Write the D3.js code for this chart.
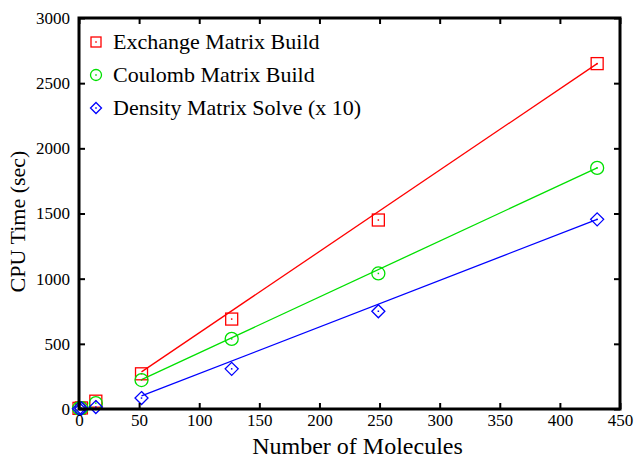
<!DOCTYPE html>
<html>
<head>
<meta charset="utf-8">
<script src="https://cdn.jsdelivr.net/npm/d3@7"></script>
<style>
body { margin: 0; background: #fff; }
svg { font-family: "Liberation Serif", "DejaVu Serif", serif; }
</style>
</head>
<body>
<svg width="637" height="457"></svg>
<script>
const svg = d3.select('svg');

// molecules in the system
const molecules = [0, 2, 14, 52, 127, 249, 431];

// measured CPU times (sec)
const exchange = [5, 8, 60, 270, 690, 1450, 2650];
const coulomb = [4, 6, 45, 222, 538, 1040, 1850];
const density = [2, 4, 15, 84, 308, 750, 1455];

// fitted lines (end points)
const fitX = [52, 431];
const exchangeFit = [285, 2650];
const coulombFit = [225, 1850];
const densityFit = [100, 1455];

const xTicks = [0, 50, 100, 150, 200, 250, 300, 350, 400, 450];
const yTicks = [0, 500, 1000, 1500, 2000, 2500, 3000];

const series = [
    { name: "Exchange Matrix Build", values: exchange, fit: exchangeFit, color: "#ff0000", shape: "square" },
    { name: "Coulomb Matrix Build", values: coulomb, fit: coulombFit, color: "#00e000", shape: "circle" },
    { name: "Density Matrix Solve (x 10)", values: density, fit: densityFit, color: "#0000ff", shape: "diamond" }
];

const margin = { top: 18, right: 17, bottom: 48, left: 79 };
const width = 637, height = 457;
const innerWidth = width - margin.left - margin.right;
const innerHeight = height - margin.top - margin.bottom;

const xScale = d3.scaleLinear().domain([0, 450]).range([0, innerWidth]);
const yScale = d3.scaleLinear().domain([0, 3000]).range([innerHeight, 0]);

const g = svg.append('g')
    .attr('transform', `translate(${margin.left},${margin.top})`);

// fit lines
const line = d3.line()
    .x(d => xScale(d[0]))
    .y(d => yScale(d[1]));

series.forEach(s => {
    g.append('path')
        .datum(d3.zip(fitX, s.fit))
        .attr('d', line)
        .attr('fill', 'none')
        .attr('stroke', s.color)
        .attr('stroke-width', 1.3);
});

// markers
const drawMarker = (sel, shape, color, size) => {
    const r = size || 6;
    let shapeEl;
    if (shape === 'square') {
        shapeEl = sel.append('rect')
            .attr('x', -r).attr('y', -r).attr('width', 2 * r).attr('height', 2 * r);
    } else if (shape === 'circle') {
        shapeEl = sel.append('circle').attr('r', r + 0.5);
    } else {
        shapeEl = sel.append('path').attr('d', `M0,${-r - 0.5}L${r + 0.5},0L0,${r + 0.5}L${-r - 0.5},0Z`);
    }
    shapeEl
        .attr('fill', 'none')
        .attr('stroke', color)
        .attr('stroke-width', 1.3);
    sel.append('rect')
        .attr('x', -0.75).attr('y', -0.75).attr('width', 1.5).attr('height', 1.5)
        .attr('fill', color);
};

series.forEach(s => {
    g.selectAll(null)
        .data(d3.zip(molecules, s.values))
        .enter().append('g')
        .attr('transform', d => `translate(${xScale(d[0])},${yScale(d[1])})`)
        .each(function() { drawMarker(d3.select(this), s.shape, s.color); });
});

// frame and axes
const tickLen = 6;
const xAxis = d3.axisBottom(xScale).tickValues(xTicks).tickSize(-tickLen).tickPadding(5).tickFormat(d3.format('d'));
const yAxis = d3.axisLeft(yScale).tickValues(yTicks).tickSize(-tickLen).tickPadding(9).tickFormat(d3.format('d'));

g.append('g')
    .attr('transform', `translate(0,${innerHeight})`)
    .call(xAxis);
g.append('g').call(yAxis);

g.append('g').call(d3.axisTop(xScale).tickValues(xTicks).tickSize(-tickLen).tickFormat(''));
g.append('g').attr('transform', `translate(${innerWidth},0)`)
    .call(d3.axisRight(yScale).tickValues(yTicks).tickSize(-tickLen).tickFormat(''));

g.selectAll('.domain').remove();
g.selectAll('.tick line').attr('stroke', '#000').attr('stroke-width', 2);
g.selectAll('.tick text')
    .attr('fill', '#000')
    .style('font-family', '"Liberation Serif", serif')
    .style('font-size', '17px');

g.append('rect')
    .attr('width', innerWidth)
    .attr('height', innerHeight)
    .attr('fill', 'none')
    .attr('stroke', '#000')
    .attr('stroke-width', 3);

// axis labels
svg.append('text')
    .attr('x', margin.left + innerWidth / 2 + 8)
    .attr('y', 454)
    .attr('text-anchor', 'middle')
    .style('font-size', '24px')
    .text('Number of Molecules');

svg.append('text')
    .attr('transform', `translate(25,${margin.top + innerHeight / 2 + 8}) rotate(-90)`)
    .attr('text-anchor', 'middle')
    .style('font-size', '22px')
    .text('CPU Time (sec)');

// legend
const legend = svg.append('g');
series.forEach((s, i) => {
    const row = legend.append('g')
        .attr('transform', `translate(96,${42 + i * 33})`);
    drawMarker(row.append('g'), s.shape, s.color, 5);
    row.append('text')
        .attr('x', 17)
        .attr('y', 7)
        .style('font-size', '22px')
        .text(s.name);
});
</script>
</body>
</html>
